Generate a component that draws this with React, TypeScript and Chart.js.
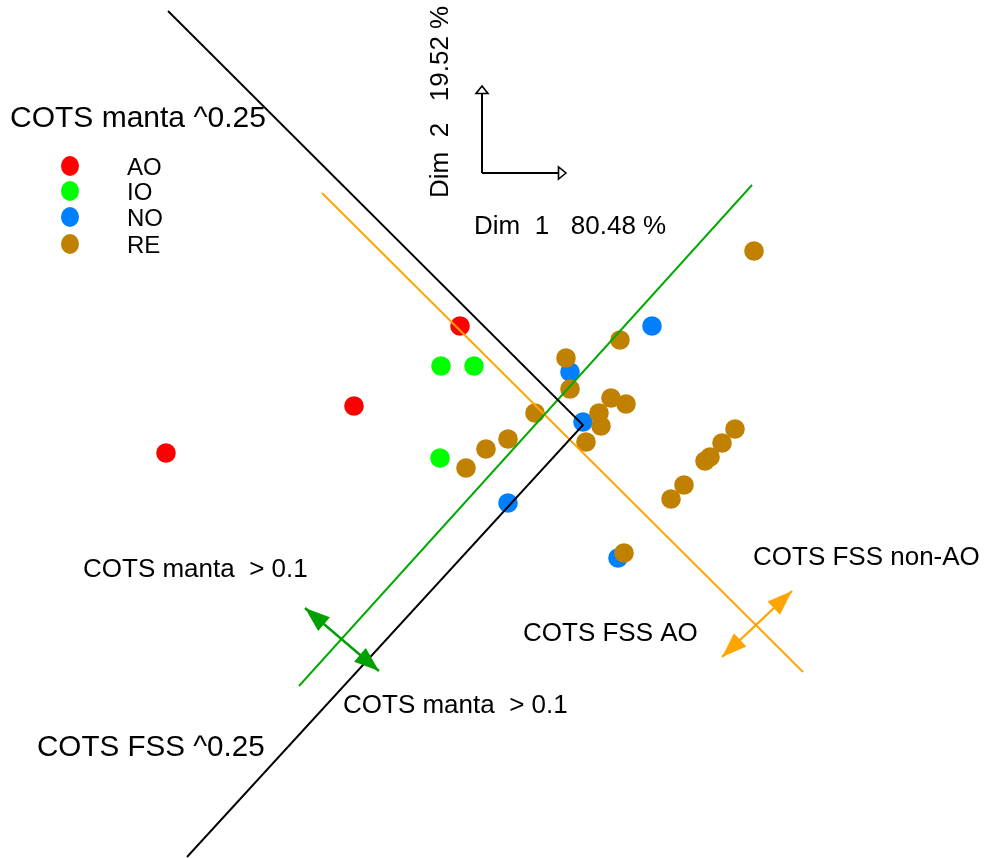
import React, { useEffect, useRef } from "react";
import { Chart, registerables } from "chart.js";

Chart.register(...registerables);

// ---- Data (plot coordinates) ----
const groups = ["AO", "IO", "NO", "RE"];
const groupColors = ["#FF0000", "#00FF00", "#0080FF", "#C08000"];

const aoX = [460, 354, 166];
const aoY = [326, 406, 453];
const ioX = [441, 474, 440];
const ioY = [366, 366, 458];
const noX = [570, 652, 583, 508, 618];
const noY = [372, 326, 422, 503, 558];
const reX = [754, 620, 566, 570, 535, 599, 611, 626, 601, 586, 508, 486, 466, 735, 722, 710, 705, 684, 671, 624];
const reY = [251, 340, 358, 389, 413, 413, 398, 404, 426, 442, 439, 449, 468, 429, 443, 457, 461, 485, 499, 553];

// Axis / iso-lines
const mantaLineX = [168, 583, 187];
const mantaLineY = [11, 425, 857];
const greenLineX = [299, 752];
const greenLineY = [686, 185];
const orangeLineX = [322, 803];
const orangeLineY = [193, 672];

// Double arrows
const greenArrowX = [305, 379];
const greenArrowY = [608, 671];
const orangeArrowX = [722, 792];
const orangeArrowY = [657, 591];

// Dimension arrows: origin, dim2 tip, dim1 tip
const dimOriginX = 482;
const dimOriginY = 173;
const dim2TipY = 86;
const dim1TipX = 566;

// Legend anchor
const legendPointX = 70;
const legendTextX = 127;
const legendY = [166, 191, 217, 244];

// Text labels
const labelTexts = [
  "COTS manta ^0.25",
  "COTS FSS ^0.25",
  "COTS manta  > 0.1",
  "COTS manta  > 0.1",
  "COTS FSS AO",
  "COTS FSS non-AO",
  "Dim  1   80.48 %",
];
const labelX = [10, 37, 83, 343, 523, 753, 474];
const labelY = [127, 756, 577, 713, 641, 565, 234];
const labelSize = [30, 29.6, 26, 26, 26, 26, 26];
const dim2Label = "Dim  2   19.52 %";
const dim2LabelX = 448;
const dim2LabelY = 198;

const FONT = '"Liberation Sans", Arial, Helvetica, sans-serif';

function pts(xs: number[], ys: number[]) {
  return xs.map((x, i) => ({ x, y: ys[i] }));
}

const overlayPlugin = {
  id: "overlay",
  afterDatasetsDraw(chart: any) {
    const ctx: CanvasRenderingContext2D = chart.ctx;
    const sx = chart.scales.x;
    const sy = chart.scales.y;
    const px = (v: number) => sx.getPixelForValue(v);
    const py = (v: number) => sy.getPixelForValue(v);

    const head = (tx: number, ty: number, fx: number, fy: number, len: number, half: number, fill: string | null, stroke: string) => {
      const a = Math.atan2(ty - fy, tx - fx);
      const bx = tx - len * Math.cos(a);
      const by = ty - len * Math.sin(a);
      const nx = -Math.sin(a);
      const ny = Math.cos(a);
      ctx.beginPath();
      ctx.moveTo(tx, ty);
      ctx.lineTo(bx + half * nx, by + half * ny);
      ctx.lineTo(bx - half * nx, by - half * ny);
      ctx.closePath();
      if (fill) {
        ctx.fillStyle = fill;
        ctx.fill();
      } else {
        ctx.fillStyle = "#FFFFFF";
        ctx.fill();
        ctx.strokeStyle = stroke;
        ctx.stroke();
      }
    };

    const doubleArrow = (xs: number[], ys: number[], color: string) => {
      const x1 = px(xs[0]), y1 = py(ys[0]), x2 = px(xs[1]), y2 = py(ys[1]);
      ctx.save();
      ctx.strokeStyle = color;
      ctx.lineWidth = 2.4;
      ctx.beginPath();
      ctx.moveTo(x1, y1);
      ctx.lineTo(x2, y2);
      ctx.stroke();
      head(x1, y1, x2, y2, 25, 9, color, color);
      head(x2, y2, x1, y1, 25, 9, color, color);
      ctx.restore();
    };

    doubleArrow(greenArrowX, greenArrowY, "#00A000");
    doubleArrow(orangeArrowX, orangeArrowY, "#FFA500");

    // Dim arrows
    ctx.save();
    ctx.strokeStyle = "#000000";
    ctx.lineWidth = 2;
    const ox = px(dimOriginX), oy = py(dimOriginY);
    const t2y = py(dim2TipY), t1x = px(dim1TipX);
    ctx.beginPath();
    ctx.moveTo(ox, oy);
    ctx.lineTo(ox, t2y + 6);
    ctx.moveTo(ox, oy);
    ctx.lineTo(t1x - 6, oy);
    ctx.stroke();
    ctx.lineWidth = 1.6;
    head(ox, t2y, ox, oy, 7.5, 6, null, "#000000");
    head(t1x, oy, ox, oy, 7.5, 6, null, "#000000");
    ctx.restore();

    // Legend
    ctx.save();
    groups.forEach((g, i) => {
      ctx.beginPath();
      ctx.fillStyle = groupColors[i];
      ctx.ellipse(px(legendPointX), py(legendY[i]), 9, 10, 0, 0, Math.PI * 2);
      ctx.fill();
      ctx.fillStyle = "#000000";
      ctx.font = `24px ${FONT}`;
      ctx.textBaseline = "alphabetic";
      ctx.textAlign = "left";
      ctx.fillText(g, px(legendTextX), py(legendY[i]) + 0.36 * 24);
    });

    // Labels
    ctx.fillStyle = "#000000";
    labelTexts.forEach((t, i) => {
      ctx.font = `${labelSize[i]}px ${FONT}`;
      ctx.fillText(t, px(labelX[i]), py(labelY[i]));
    });

    // Vertical Dim 2 label
    ctx.translate(px(dim2LabelX), py(dim2LabelY));
    ctx.rotate(-Math.PI / 2);
    ctx.font = `26px ${FONT}`;
    ctx.fillText(dim2Label, 0, 0);
    ctx.restore();
  },
};

export default function App() {
  const canvasRef = useRef<HTMLCanvasElement | null>(null);

  useEffect(() => {
    if (!canvasRef.current) return;
    const lineDs = (xs: number[], ys: number[], color: string, width: number) => ({
      data: pts(xs, ys),
      showLine: true,
      borderColor: color,
      borderWidth: width,
      pointRadius: 0,
      fill: false,
      tension: 0,
      order: 1,
    });
    const pointDs = (i: number, xs: number[], ys: number[], order: number) => ({
      label: groups[i],
      data: pts(xs, ys),
      showLine: false,
      pointRadius: 9.8,
      pointBackgroundColor: groupColors[i],
      pointBorderWidth: 0,
      borderColor: groupColors[i],
      pointStyle: "circle",
      order,
    });

    const chart = new Chart(canvasRef.current, {
      type: "scatter",
      data: {
        datasets: [
          lineDs(mantaLineX, mantaLineY, "#000000", 1.9),
          lineDs(greenLineX, greenLineY, "#00AA00", 1.9),
          lineDs(orangeLineX, orangeLineY, "#FFA500", 1.9),
          pointDs(3, reX, reY, 7),
          pointDs(2, noX, noY, 8),
          pointDs(1, ioX, ioY, 9),
          pointDs(0, aoX, aoY, 10),
        ] as any,
      },
      options: {
        animation: false,
        responsive: false,
        devicePixelRatio: 1,
        layout: { padding: 0, autoPadding: false },
        plugins: {
          legend: { display: false },
          tooltip: { enabled: false },
        },
        events: [],
        scales: {
          x: { type: "linear", min: 0, max: 985, display: false },
          y: { type: "linear", min: 0, max: 858, reverse: true, display: false },
        },
      },
      plugins: [overlayPlugin],
    });
    return () => chart.destroy();
  }, []);

  return (
    <div style={{ position: "absolute", left: 0, top: 0, width: 985, height: 858, background: "#FFFFFF" }}>
      <canvas ref={canvasRef} width={985} height={858} style={{ display: "block" }} />
    </div>
  );
}
